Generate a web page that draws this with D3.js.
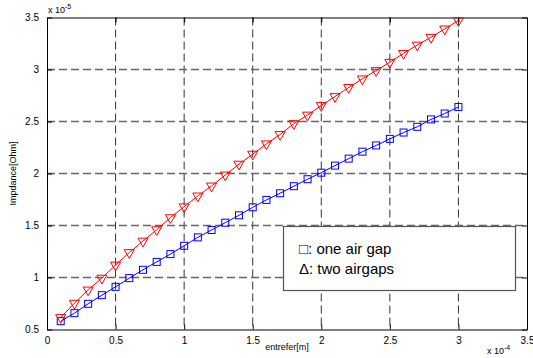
<!DOCTYPE html>
<html>
<head>
<meta charset="utf-8">
<script src="https://cdn.jsdelivr.net/npm/d3@7"></script>
<style>
  body { margin: 0; background: #fff; }
  svg { font-family: "Liberation Sans", Arial, sans-serif; }
</style>
</head>
<body>
<svg id="chart" width="533" height="358"></svg>
<script>
// air gap width, in units of 1e-4 m
const gaps = d3.range(1, 31).map((i) => i / 10);

// impedance, in units of 1e-5 Ohm
const oneAirGap = [0.58, 0.657, 0.747, 0.83, 0.91, 0.994, 1.074, 1.15, 1.225, 1.305,
  1.386, 1.457, 1.527, 1.598, 1.675, 1.746, 1.81, 1.878, 1.945, 2.008,
  2.076, 2.143, 2.21, 2.27, 2.333, 2.394, 2.449, 2.52, 2.577, 2.639];
const twoAirGaps = [0.615, 0.753, 0.88, 0.994, 1.12, 1.24, 1.35, 1.46, 1.575, 1.68,
  1.784, 1.88, 1.986, 2.09, 2.186, 2.285, 2.375, 2.48, 2.562, 2.654,
  2.74, 2.828, 2.91, 2.99, 3.07, 3.155, 3.235, 3.31, 3.39, 3.47];

const xTicks = [0, 0.5, 1, 1.5, 2, 2.5, 3, 3.5];
const yTicks = [0.5, 1, 1.5, 2, 2.5, 3, 3.5];
const legendLabels = ["\u25A1: one air gap", "\u0394: two airgaps"];

const svg = d3.select("#chart");
const axL = 47, axR = 527, axT = 17.5, axB = 329.5;

const x = d3.scaleLinear().domain([0, 3.5]).range([axL, axR]);
const y = d3.scaleLinear().domain([0.5, 3.5]).range([axB, axT]);

// grid
const grid = svg.append("g");
grid.selectAll(".vg").data(xTicks.slice(1, -1)).enter().append("line")
  .attr("x1", (d) => x(d)).attr("x2", (d) => x(d))
  .attr("y1", axT).attr("y2", axB)
  .attr("stroke", "#333").attr("stroke-dasharray", "8,4");
grid.selectAll(".hg").data(yTicks.slice(1, -1)).enter().append("line")
  .attr("y1", (d) => y(d)).attr("y2", (d) => y(d))
  .attr("x1", axL).attr("x2", axR)
  .attr("stroke", "#666").attr("stroke-width", 1.3).attr("stroke-dasharray", "8,4");

// axes, ticks inward like matlab
const fmt = (d) => String(d);
svg.append("g").attr("transform", `translate(0,${axB})`)
  .call(d3.axisBottom(x).tickValues(xTicks).tickFormat(fmt).tickSizeInner(-5).tickSizeOuter(0).tickPadding(7));
svg.append("g").attr("transform", `translate(0,${axT})`)
  .call(d3.axisTop(x).tickValues(xTicks).tickFormat("").tickSizeInner(-5).tickSizeOuter(0));
svg.append("g").attr("transform", `translate(${axL},0)`)
  .call(d3.axisLeft(y).tickValues(yTicks).tickFormat(fmt).tickSizeInner(-5).tickSizeOuter(0).tickPadding(8));
svg.append("g").attr("transform", `translate(${axR},0)`)
  .call(d3.axisRight(y).tickValues(yTicks).tickFormat("").tickSizeInner(-5).tickSizeOuter(0));

svg.selectAll(".domain").attr("stroke", "#000");
svg.selectAll(".tick line").attr("stroke", "#000");
svg.selectAll(".tick text").attr("font-size", 10).attr("fill", "#000")
  .attr("font-family", "Liberation Sans, Arial, sans-serif");

// series
const line = d3.line().x((d) => x(d[0])).y((d) => y(d[1]));
const blue = gaps.map((g, i) => [g, oneAirGap[i]]);
const red = gaps.map((g, i) => [g, twoAirGaps[i]]);

svg.append("path").datum(blue).attr("d", line)
  .attr("fill", "none").attr("stroke", "#0000ff").attr("stroke-width", 1);
svg.append("path").datum(red).attr("d", line)
  .attr("fill", "none").attr("stroke", "#ff0000").attr("stroke-width", 1);

svg.selectAll(".sq").data(blue).enter().append("rect")
  .attr("x", (d) => x(d[0]) - 3.5).attr("y", (d) => y(d[1]) - 3.5)
  .attr("width", 7).attr("height", 7)
  .attr("fill", "none").attr("stroke", "#0000ff").attr("stroke-width", 1);

const tri = d3.symbol().type(d3.symbolTriangle).size(44);
svg.selectAll(".tri").data(red).enter().append("path")
  .attr("d", tri)
  .attr("transform", (d) => `translate(${x(d[0])},${y(d[1])}) rotate(180)`)
  .attr("fill", "none").attr("stroke", "#ff0000").attr("stroke-width", 1);

// exponent labels
const e5 = svg.append("text").attr("x", 48).attr("y", 13).attr("font-size", 9);
e5.append("tspan").text("x 10");
e5.append("tspan").attr("dy", -4).attr("font-size", 7).text("-5");
const e4 = svg.append("text").attr("x", 487).attr("y", 354).attr("font-size", 9);
e4.append("tspan").text("x 10");
e4.append("tspan").attr("dy", -4).attr("font-size", 7).text("-4");

// axis labels
svg.append("text").attr("x", (axL + axR) / 2).attr("y", 350)
  .attr("text-anchor", "middle").attr("font-size", 9).text("entrefer[m]");
svg.append("text").attr("transform", `translate(16,${(axT + axB) / 2}) rotate(-90)`)
  .attr("text-anchor", "middle").attr("font-size", 9).text("Impdance[Ohm]");

// legend box
const lg = svg.append("g");
lg.append("rect").attr("x", 283.5).attr("y", 226.5).attr("width", 232).attr("height", 64)
  .attr("fill", "#fff").attr("stroke", "#555").attr("stroke-width", 1.2);
lg.selectAll("text").data(legendLabels).enter().append("text")
  .attr("x", 299).attr("y", (d, i) => 254 + i * 20)
  .attr("font-size", 15).attr("fill", "#000").text((d) => d);
</script>
</body>
</html>
